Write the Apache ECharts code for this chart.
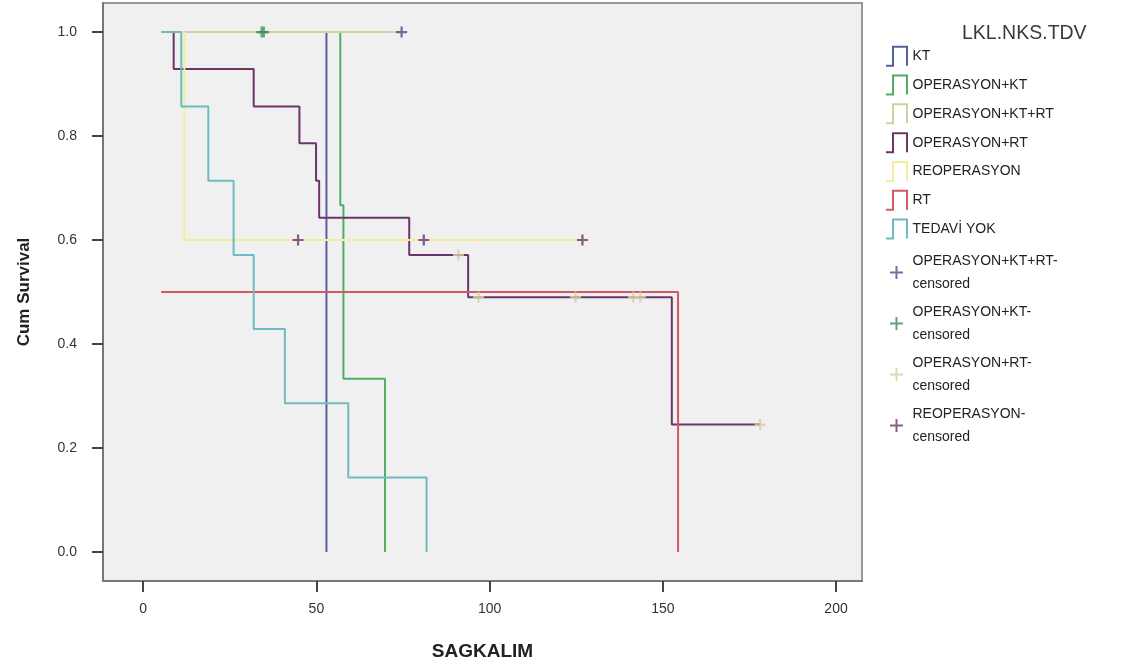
<!DOCTYPE html>
<html>
<head>
<meta charset="utf-8">
<script src="https://cdn.jsdelivr.net/npm/echarts@6/dist/echarts.min.js"></script>
<style>
html,body{margin:0;padding:0;background:#ffffff;}
#chart{width:1143px;height:669px;}
</style>
</head>
<body>
<div id="chart"></div>
<script>
// ---- data (time, cumulative survival) ----
const groupNames = ['KT', 'OPERASYON+KT', 'OPERASYON+KT+RT', 'OPERASYON+RT', 'REOPERASYON', 'RT', 'TEDAVİ YOK'];
const ktCurve      = [[5.2, 1], [52.9, 0]];
const opKtCurve    = [[5.2, 1], [56.9, 0.667], [57.8, 0.333], [69.8, 0]];
const opKtRtCurve  = [[5.2, 1], [74.6, 1]];
const opRtCurve    = [[5.2, 1], [8.8, 0.929], [31.9, 0.857], [45.1, 0.786], [49.9, 0.714], [50.8, 0.643], [76.8, 0.571], [93.8, 0.49], [152.6, 0.245], [178.1, 0.245]];
const reopCurve    = [[5.2, 1], [11.9, 0.6], [126.8, 0.6]];
const rtCurve      = [[5.2, 0.5], [154.4, 0]];
const tedaviCurve  = [[5.2, 1], [11.0, 0.857], [18.8, 0.714], [26.1, 0.571], [31.9, 0.429], [40.9, 0.286], [59.2, 0.143], [81.8, 0]];

const censoredNames = ['OPERASYON+KT+RT-censored', 'OPERASYON+KT-censored', 'OPERASYON+RT-censored', 'REOPERASYON-censored'];
const opKtRtCensored = [[74.6, 1]];
const opKtCensored   = [[34.2, 1], [34.8, 1]];
const opRtCensored   = [[91.0, 0.571], [96.8, 0.49], [124.8, 0.49], [141.5, 0.49], [143.5, 0.49], [178.1, 0.245]];
const reopCensored   = [[44.7, 0.6], [81.0, 0.6], [126.8, 0.6]];

const xTicks = [0, 50, 100, 150, 200];
const yTicks = [0.0, 0.2, 0.4, 0.6, 0.8, 1.0];

const legendTitle = 'LKL.NKS.TDV';
const xTitle = 'SAGKALIM';
const yTitle = 'Cum Survival';

// ---- styling ----
const curveColors = ['#56609c', '#4fae62', '#d4d0a2', '#6c3468', '#f2ee9c', '#cf5a62', '#6cbcc0'];
const censoredColors = ['#4a5082', '#3f8a58', '#d4d0a2', '#6c3468'];
const curves = [ktCurve, opKtCurve, opKtRtCurve, opRtCurve, reopCurve, rtCurve, tedaviCurve];
const censored = [opKtRtCensored, opKtCensored, opRtCensored, reopCensored];

const stepIcon = 'path://M0,20H7V1H21V20';
const plusIcon = 'path://M4,0H6V4H10V6H6V10H4V6H0V4H4Z';
// plus glyph with a padded bounding box so the legend glyph keeps a ~13px size
const legendPlusIcon = 'path://M-2,-2M17,17M6.5,1H8.5V6.5H14V8.5H8.5V14H6.5V8.5H1V6.5H6.5Z';
const FONT = '"Liberation Sans", Arial, sans-serif';

const series = [];
curves.forEach((c, i) => {
  series.push({
    name: groupNames[i],
    type: 'line',
    step: 'end',
    data: c,
    symbol: 'none',
    lineStyle: { color: curveColors[i], width: 2 },
    itemStyle: { color: curveColors[i] },
    z: 2 + i,
    animation: false
  });
});
censored.forEach((c, i) => {
  series.push({
    name: censoredNames[i],
    type: 'scatter',
    data: c,
    symbol: plusIcon,
    symbolSize: 11,
    itemStyle: { color: censoredColors[i] },
    z: 20,
    animation: false
  });
});

const curveLegendData = groupNames.map((n, i) => ({
  name: n, icon: stepIcon,
  itemStyle: { color: 'transparent', borderColor: curveColors[i], borderWidth: 2 }
}));
const censoredLegendData = censoredNames.map((n, i) => ({
  name: n, icon: legendPlusIcon,
  itemStyle: { color: censoredColors[i], borderWidth: 0 }
}));

const legendText = { fontFamily: FONT, fontSize: 14, color: '#222222', lineHeight: 22.5 };

const chart = echarts.init(document.getElementById('chart'));
chart.setOption({
  backgroundColor: '#ffffff',
  animation: false,
  textStyle: { fontFamily: FONT },
  title: {
    text: legendTitle,
    left: 957, top: 19,
    textStyle: { fontFamily: FONT, fontSize: 19.5, fontWeight: 'normal', color: '#3a3a3a' }
  },
  legend: [{
    orient: 'vertical',
    left: 880, top: 40,
    itemWidth: 22, itemHeight: 19,
    itemGap: 6.3,
    data: curveLegendData,
    selectedMode: false,
    textStyle: legendText
  }, {
    orient: 'vertical',
    left: 882, top: 245,
    itemWidth: 22, itemHeight: 19,
    itemGap: 6,
    data: censoredLegendData,
    selectedMode: false,
    formatter: n => n.replace('-censored', '-\ncensored'),
    textStyle: legendText
  }],
  grid: {
    left: 103, top: 3, width: 759, height: 578,
    show: true, backgroundColor: '#f0f0f0', borderColor: '#999999', borderWidth: 2
  },
  xAxis: {
    type: 'value',
    min: -11.6, max: 207.5,
    name: xTitle, nameLocation: 'middle', nameGap: 61,
    nameTextStyle: { fontFamily: FONT, fontSize: 19, fontWeight: 'bold', color: '#222222' },
    axisLine: { show: true, onZero: false, lineStyle: { color: '#777777', width: 2 } },
    axisTick: { show: true, length: 11, customValues: xTicks, lineStyle: { color: '#444444', width: 2 } },
    axisLabel: { customValues: xTicks, margin: 21, fontFamily: FONT, fontSize: 14, color: '#333333' },
    splitLine: { show: false }
  },
  yAxis: {
    type: 'value',
    min: -0.0559, max: 1.0559,
    name: yTitle, nameLocation: 'middle', nameGap: 70,
    nameTextStyle: { fontFamily: FONT, fontSize: 17, fontWeight: 'bold', color: '#222222' },
    axisLine: { show: true, onZero: false, lineStyle: { color: '#777777', width: 2 } },
    axisTick: { show: true, length: 11, customValues: yTicks, lineStyle: { color: '#444444', width: 2 } },
    axisLabel: { customValues: yTicks, margin: 26, fontFamily: FONT, fontSize: 14, color: '#333333',
      formatter: v => Number(v).toFixed(1) },
    splitLine: { show: false }
  },
  series: series
});
</script>
</body>
</html>
